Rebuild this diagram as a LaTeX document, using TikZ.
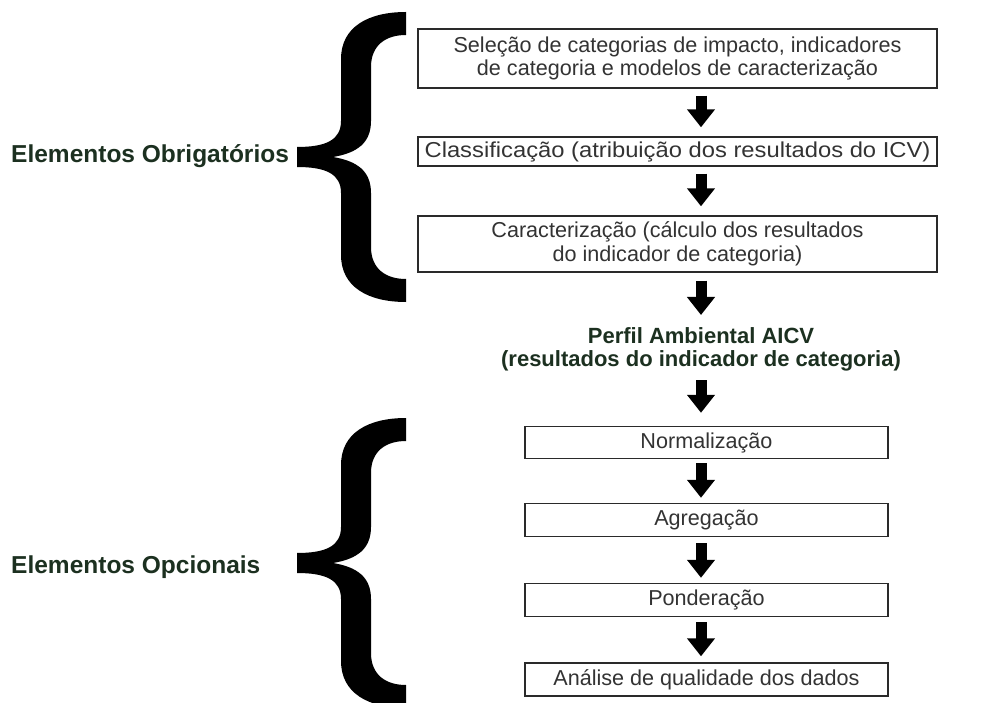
\documentclass[tikz,border=0pt]{standalone}
\usepackage{fontspec}
\setmainfont{Liberation Sans}
\usetikzlibrary{arrows.meta}
\definecolor{boxtext}{HTML}{333333}
\definecolor{boxline}{HTML}{2A2A2A}
\definecolor{labgreen}{HTML}{1C3020}
\newcommand\mybrace[1]{%
  \fill[black,shift={(0,#1)}] (406,-145) .. controls (368,-145) and (341,-130) .. (341,-98)
    -- (341,-36) .. controls (341,-17) and (326,-10) .. (297,-10)
    -- (297,10) .. controls (326,10) and (341,17) .. (341,36)
    -- (341,98) .. controls (341,130) and (368,145) .. (406,145)
    -- (406,122) .. controls (386,122) and (371,112) .. (371,90)
    -- (371,36) .. controls (371,14) and (357,4) .. (333,0)
    .. controls (357,-4) and (371,-14) .. (371,-36)
    -- (371,-90) .. controls (371,-112) and (386,-122) .. (406,-122) -- cycle;}
\begin{document}
\begin{tikzpicture}[x=1pt,y=-1pt,
  box/.style={draw=boxline, line width=1.4pt, minimum width=519pt, inner sep=0pt,
    align=center, text=boxtext, font=\fontsize{21.6}{23.5}\selectfont},
  sbox/.style={box, minimum width=363pt},
  flow/.style={line width=11pt, -{Triangle[width=27pt,length=18pt]}, shorten <=7pt, shorten >=9pt},
  lab/.style={font=\bfseries\fontsize{24.5}{28}\selectfont, text=labgreen, anchor=base west, inner sep=0pt}]
\useasboundingbox (0,0) rectangle (982,703);
\fill[white] (0,0) rectangle (982,703);
\coordinate (ax) at (701,0);
% braces
\mybrace{157}
\mybrace{563}
% labels
\node[lab] (lobr) at (11,163) {Elementos Obrigatórios};
\node[lab] (lopc) at (11,573) {Elementos Opcionais};
% upper boxes
\node[box, minimum height=59pt] (b1) at (677.5,58.5) {Seleção de categorias de impacto, indicadores\\de categoria e modelos de caracterização};
\node[box, minimum height=29pt] (b2) at (677.5,151.5) {\scalebox{1.1}[1]{Classificação (atribuição dos resultados do ICV)}};
\node[box, minimum height=56pt] (b3) at (677.5,244) {Caracterização (cálculo dos resultados\\do indicador de categoria)};
% profile
\node[inner sep=0pt, align=center, text=labgreen, font=\bfseries\fontsize{22}{23}\selectfont] (perf) at (701,349) {Perfil Ambiental AICV\\(resultados do indicador de categoria)};
% lower boxes
\node[sbox, minimum height=32pt] (n1) at (706.5,442.5) {Normalização};
\node[sbox, minimum height=33pt] (n2) at (706.5,520) {Agregação};
\node[sbox, minimum height=33pt] (n3) at (706.5,600) {Ponderação};
\node[sbox, minimum height=33pt] (n4) at (706.5,679.5) {Análise de qualidade dos dados};
% arrows
\draw[flow] (b1.south -| ax) -- (b2.north -| ax);
\draw[flow] (b2.south -| ax) -- (b3.north -| ax);
\draw[flow, shorten <=8pt, shorten >=12pt] (b3.south -| ax) -- (perf.north -| ax);
\draw[flow, shorten <=9pt, shorten >=13pt] (perf.south -| ax) -- (n1.north -| ax);
\draw[flow, shorten <=4pt, shorten >=5pt] (n1.south -| ax) -- (n2.north -| ax);
\draw[flow, shorten <=6pt, shorten >=5pt] (n2.south -| ax) -- (n3.north -| ax);
\draw[flow, shorten <=5pt, shorten >=6pt] (n3.south -| ax) -- (n4.north -| ax);
\end{tikzpicture}
\end{document}
